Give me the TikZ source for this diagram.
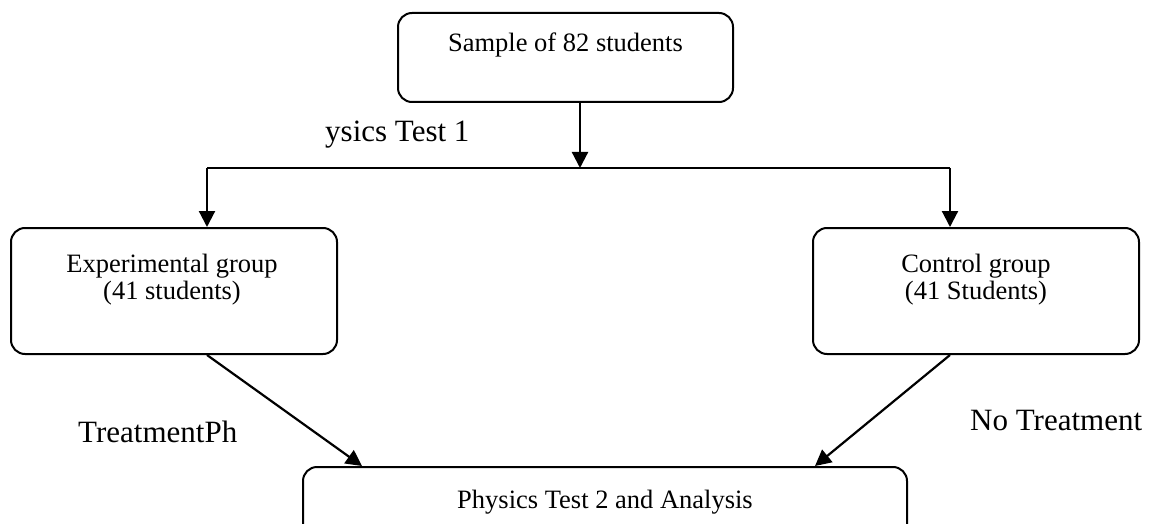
\documentclass[tikz,border=0pt]{standalone}
\usepackage{fontspec}
\setmainfont{Liberation Serif}
\usetikzlibrary{arrows.meta}
\tikzset{
  x=1pt,y=-1pt,
  box/.style={draw=black,line width=2pt,rounded corners=14pt,rectangle,inner sep=0pt},
  boxtext/.style={font=\fontsize{26.5}{27}\selectfont,align=center,inner sep=0pt},
  lbl/.style={font=\fontsize{31}{34}\selectfont,inner sep=0pt,anchor=base west},
  arr/.style={line width=2.2pt,-{Triangle[width=16pt,length=16pt]}},
  ln/.style={line width=2.2pt}
}
\begin{document}
\begin{tikzpicture}
\useasboundingbox (0,0) rectangle (1149,524);
\clip (0,0) rectangle (1149,524);
% boxes
\node[box,minimum width=335pt,minimum height=89pt] (top) at (565.5,57.5) {};
\node[box,minimum width=326pt,minimum height=126pt] (left) at (174,291) {};
\node[box,minimum width=326pt,minimum height=126pt] (right) at (976,291) {};
\node[box,minimum width=604pt,minimum height=120pt] (bot) at (605,527) {};
% box texts
\node[boxtext,anchor=base] (ttop) at (565.5,52) {Sample of 82 students};
\node[boxtext,anchor=north] (tleft) at (172,253.5) {Experimental group\\(41 students)};
\node[boxtext,anchor=north] (tright) at (976,253.5) {Control group\\(41 Students)};
\node[boxtext,anchor=base] (tbot) at (605,508) {Physics Test 2 and Analysis};
% labels
\node[lbl] (l1) at (325,142) {ysics Test 1};
\node[lbl] (l2) at (78,442) {TreatmentPh};
\node[lbl] (l3) at (970,430) {No Treatment};
% connectors
\coordinate (split) at (580,168);
\coordinate (lj) at (207,168);
\coordinate (rj) at (950,168);
\coordinate (lend) at (362,467);
\coordinate (rend) at (815,467);
\draw[arr] (top.south -| split) -- (split);
\draw[ln] (lj) -- (rj);
\draw[arr] (lj) -- (lj |- left.north);
\draw[arr] (rj) -- (rj |- right.north);
\draw[arr] (left.south -| lj) -- (lend |- bot.north);
\draw[arr] (right.south -| rj) -- (rend |- bot.north);
\end{tikzpicture}
\end{document}
